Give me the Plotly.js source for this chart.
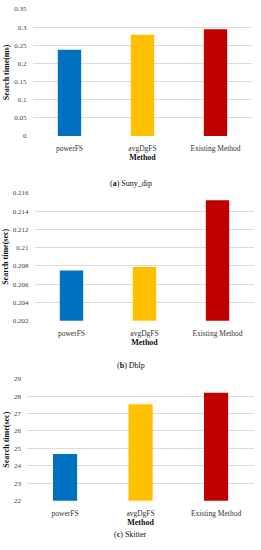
<!DOCTYPE html>
<html><head><meta charset="utf-8">
<script src="https://cdn.plot.ly/plotly-3.0.1.min.js"></script>
<style>html,body{margin:0;padding:0;background:#fff}#chart{width:261px;height:550px}</style>
</head><body><div id="chart"></div>
<script>
const categories = ["powerFS", "avgDgFS", "Existing Method"];
const sunyValues = [0.238, 0.279, 0.294];
const dblpValues = [0.2075, 0.2079, 0.2152];
const skitterValues = [24.68, 27.53, 28.2];
const colors = ["#0070C0", "#FFC000", "#C00000"];
const sunyTicks = [0, 0.05, 0.1, 0.15, 0.2, 0.25, 0.3, 0.35];
const sunyTickText = ["0", "0.05", "0.1", "0.15", "0.2", "0.25", "0.3", "0.35"];
const dblpTicks = [0.202, 0.204, 0.206, 0.208, 0.21, 0.212, 0.214, 0.216];
const dblpTickText = ["0.202", "0.204", "0.206", "0.208", "0.21", "0.212", "0.214", "0.216"];
const skitterTicks = [22, 23, 24, 25, 26, 27, 28, 29];

const font = "Liberation Serif, Times New Roman, serif";
const traces = [
  {type: "bar", x: categories, y: sunyValues, xaxis: "x", yaxis: "y", marker: {color: colors}, width: 0.32},
  {type: "bar", x: categories, y: dblpValues, xaxis: "x2", yaxis: "y2", marker: {color: colors}, width: 0.32},
  {type: "bar", x: categories, y: skitterValues, xaxis: "x3", yaxis: "y3", marker: {color: colors}, width: 0.32}
];
function py(px) { return 1 - px / 550; }
function xax(dom, anchor) {
  return {domain: dom, anchor: anchor, showgrid: false, showline: false, zeroline: false,
    ticks: "outside", ticklen: 5, tickcolor: "rgba(0,0,0,0)",
    tickfont: {family: font, size: 7.5, color: "#333"},
    title: {text: "<b>Method</b>", font: {family: font, size: 8, color: "#111"}, standoff: 1},
    fixedrange: true};
}
function yax(dom, anchor, range, tv, tt, title) {
  return {domain: dom, anchor: anchor, range: range, tickvals: tv, ticktext: tt,
    showgrid: true, gridcolor: "#dcdcdc", gridwidth: 1, zeroline: false, showline: false,
    ticks: "outside", ticklen: 4, tickcolor: "rgba(0,0,0,0)",
    tickfont: {family: font, size: 7, color: "#444"},
    title: {text: "<b>" + title + "</b>", font: {family: font, size: 8, color: "#111"}, standoff: 3}};
}
const layout = {
  width: 261, height: 550, margin: {l: 0, r: 0, t: 0, b: 0},
  showlegend: false, paper_bgcolor: "#fff", plot_bgcolor: "#fff",
  xaxis: xax([33/261, 252/261], "y"),
  yaxis: yax([py(136), py(9)], "x", [0, 0.35], sunyTicks, sunyTickText, "Search time(ms)"),
  xaxis2: xax([35/261, 254/261], "y2"),
  yaxis2: yax([py(320.7), py(193)], "x2", [0.202, 0.216], dblpTicks, dblpTickText, "Search time(sec)"),
  xaxis3: xax([27.3/261, 253.8/261], "y3"),
  yaxis3: yax([py(500.7), py(378.7)], "x3", [22, 29], skitterTicks, skitterTicks.map(String), "Search time(sec)"),
  annotations: [
    {text: "(<b>a</b>) Suny_dip", x: 0.5, y: py(177), xref: "paper", yref: "paper", showarrow: false, font: {family: font, size: 8, color: "#111"}},
    {text: "(<b>b</b>) Dblp", x: 0.5, y: py(365), xref: "paper", yref: "paper", showarrow: false, font: {family: font, size: 8, color: "#111"}},
    {text: "(<b>c</b>) Skitter", x: 0.5, y: py(541), xref: "paper", yref: "paper", showarrow: false, font: {family: font, size: 8, color: "#111"}}
  ]
};
Plotly.newPlot("chart", traces, layout, {staticPlot: true, displayModeBar: false});
</script></body></html>
